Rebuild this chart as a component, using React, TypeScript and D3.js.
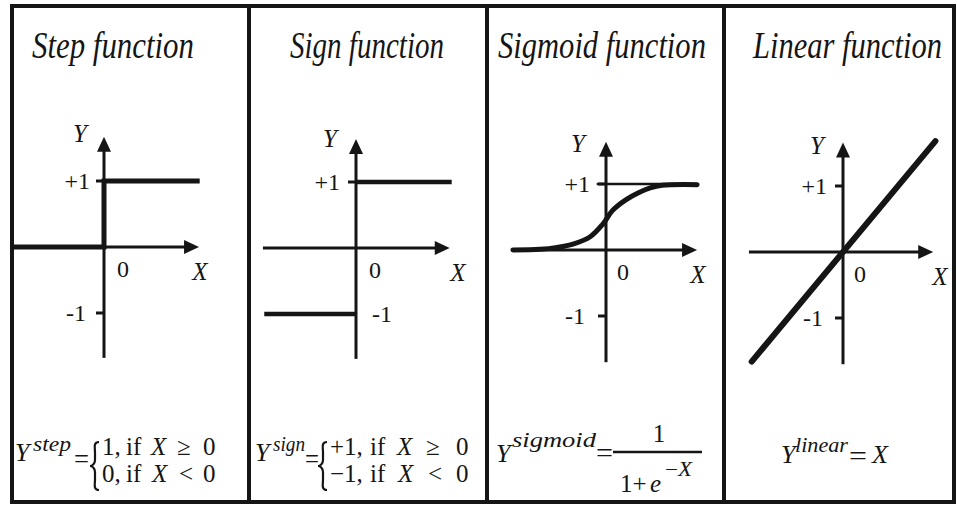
import React, { useLayoutEffect, useRef, useState } from "react";
import * as d3 from "d3";

// ---------- data ----------
const titles = ["Step function", "Sign function", "Sigmoid function", "Linear function"];
const tickValues = [1, -1];
const tickLabels = ["+1", "-1"];
const originLabel = "0";
const xAxisLabel = "X";
const yAxisLabel = "Y";

// axis extents (function units) per panel
const xAxisMin = [-1.42, -1.41, -1.41, -1.71];
const xAxisMax = [1.44, 1.42, 1.38, 1.64];
const yAxisMin = [-1.68, -1.68, -1.7, -1.7];
const yAxisMax = [1.67, 1.65, 1.64, 1.66];

const stepX = [-1.42, 0, 0, 1.45];
const stepY = [0, 0, 1, 1];
const signUpperX = [0, 1.45];
const signUpperY = [1, 1];
const signLowerX = [-1.39, 0];
const signLowerY = [-1, -1];
const sigmoidX = [-1.41, -1.0, -0.74, -0.5, -0.24, -0.05, 0.1, 0.3, 0.5, 0.67, 0.85, 1.38];
const sigmoidY = [0, 0.01, 0.04, 0.09, 0.2, 0.39, 0.6, 0.76, 0.87, 0.94, 0.98, 0.99];
const sigmoidRefX = [-0.14, 1.38];
const sigmoidRefY = [1, 1];
const linearX = [-1.66, 1.68];
const linearY = [-1.66, 1.68];

// ---------- layout ----------
const W = 957;
const H = 505;
const panels = [
  { ox: 104, oy: 247, ux: 66, uy: 66, yl: [-24, -114], tp: ["end", -14], tm: ["end", -18], z: 19, xl: 96 },
  { ox: 356, oy: 248, ux: 66, uy: 66, yl: [-26, -110], tp: ["end", -16], tm: ["start", 16], z: 19, xl: 102 },
  { ox: 606, oy: 250, ux: 66, uy: 66, yl: [-28, -107], tp: ["end", -16], tm: ["end", -21], z: 17, xl: 92 },
  { ox: 843, oy: 252, ux: 55, uy: 66, yl: [-26, -107], tp: ["end", -16], tm: ["end", -20], z: 17, xl: 97 },
];
const titlePos = [
  [32, 162],
  [290, 154],
  [498, 208],
  [753, 189],
];
const dividers = [249, 487, 724];
const INK = "#151515";
const SERIF = "Liberation Serif";

const zip = (xs: number[], ys: number[]) => xs.map((x, i) => [x, ys[i]] as [number, number]);
const T = (extra: React.CSSProperties = {}): React.CSSProperties => ({ fontFamily: SERIF, ...extra });

function FitText({ x, y, width, fontSize, style, children }: any) {
  const ref = useRef<SVGTextElement>(null);
  const [s, setS] = useState(1);
  useLayoutEffect(() => {
    if (ref.current) {
      const w = ref.current.getComputedTextLength();
      if (w > 0) setS(width / w);
    }
  }, [width]);
  return (
    <g transform={`translate(${x},${y}) scale(${s},1)`}>
      <text ref={ref} x={0} y={0} fontSize={fontSize} style={style} fill={INK}>
        {children}
      </text>
    </g>
  );
}

function Panel({ i }: { i: number }) {
  const p = panels[i];
  const x = d3.scaleLinear().domain([0, 1]).range([p.ox, p.ox + p.ux]);
  const y = d3.scaleLinear().domain([0, 1]).range([p.oy, p.oy - p.uy]);
  const line = d3.line<[number, number]>().x((d) => x(d[0])).y((d) => y(d[1]));
  const curve = d3
    .line<[number, number]>()
    .x((d) => x(d[0]))
    .y((d) => y(d[1]))
    .curve(d3.curveCatmullRom.alpha(0.5));

  const xTip = x(xAxisMax[i]);
  const yTip = y(yAxisMax[i]);
  const AL = 15;
  const AW = 7;
  const xArrow = `M${xTip},${y(0)} L${xTip - AL},${y(0) - AW} L${xTip - AL},${y(0) + AW} Z`;
  const yArrow = `M${x(0)},${yTip} L${x(0) - AW},${yTip + AL} L${x(0) + AW},${yTip + AL} Z`;

  return (
    <g>
      <path d={line([[xAxisMin[i], 0], [xAxisMax[i] - 0.15, 0]])!} stroke={INK} strokeWidth={3} fill="none" />
      <path d={line([[0, yAxisMin[i]], [0, yAxisMax[i] - 0.15]])!} stroke={INK} strokeWidth={3} fill="none" />
      <path d={xArrow} fill={INK} />
      <path d={yArrow} fill={INK} />
      {tickValues.map((t, k) => (
        <line key={k} x1={x(0) - 8} x2={x(0)} y1={y(t)} y2={y(t)} stroke={INK} strokeWidth={3} />
      ))}
      <text x={x(0) + p.yl[0]} y={y(0) + p.yl[1]} style={T({ fontStyle: "italic" })} fontSize={25} textAnchor="middle" dominantBaseline="central" fill={INK}>
        {yAxisLabel}
      </text>
      <text x={x(0) + (p.tp[1] as number)} y={y(tickValues[0])} style={T()} fontSize={24} textAnchor={p.tp[0] as any} dominantBaseline="central" fill={INK}>
        {tickLabels[0]}
      </text>
      <text x={x(0) + (p.tm[1] as number)} y={y(tickValues[1])} style={T()} fontSize={24} textAnchor={p.tm[0] as any} dominantBaseline="central" fill={INK}>
        {tickLabels[1]}
      </text>
      <text x={x(0) + p.z} y={y(0) + 22} style={T()} fontSize={24} textAnchor="middle" dominantBaseline="central" fill={INK}>
        {originLabel}
      </text>
      <text x={x(0) + p.xl} y={y(0) + 24} style={T({ fontStyle: "italic" })} fontSize={25} textAnchor="middle" dominantBaseline="central" fill={INK}>
        {xAxisLabel}
      </text>
      {i === 0 && <path d={line(zip(stepX, stepY))!} stroke={INK} strokeWidth={5} fill="none" />}
      {i === 1 && (
        <>
          <path d={line(zip(signUpperX, signUpperY))!} stroke={INK} strokeWidth={4.5} fill="none" />
          <path d={line(zip(signLowerX, signLowerY))!} stroke={INK} strokeWidth={4.5} fill="none" />
        </>
      )}
      {i === 2 && (
        <>
          <path d={line(zip(sigmoidRefX, sigmoidRefY))!} stroke={INK} strokeWidth={2.5} fill="none" />
          <path d={curve(zip(sigmoidX, sigmoidY))!} stroke={INK} strokeWidth={5} fill="none" strokeLinecap="round" />
        </>
      )}
      {i === 3 && <path d={line(zip(linearX, linearY))!} stroke={INK} strokeWidth={6} fill="none" strokeLinecap="round" />}
    </g>
  );
}

function Brace({ x, y1, y2 }: { x: number; y1: number; y2: number }) {
  const m = (y1 + y2) / 2;
  const w = 7;
  const d = `M${x + w},${y1} C${x + 1},${y1} ${x + 3},${y1 + 6} ${x + 3},${y1 + 10} L${x + 3},${m - 6} C${x + 3},${m - 2} ${x},${m} ${x - 2},${m} C${x},${m} ${x + 3},${m + 2} ${x + 3},${m + 6} L${x + 3},${y2 - 10} C${x + 3},${y2 - 6} ${x + 1},${y2} ${x + w},${y2}`;
  return <path d={d} fill="none" stroke={INK} strokeWidth={2.2} />;
}

export default function App() {
  const it = T({ fontStyle: "italic" });
  const rm = T();
  return (
    <svg width={W} height={H} style={{ position: "absolute", left: 0, top: 0, background: "#fff" }}>
      <rect x={0} y={0} width={W} height={H} fill="#fff" />
      <rect x={12} y={6} width={942} height={496} fill="none" stroke={INK} strokeWidth={4} />
      {dividers.map((d) => (
        <line key={d} x1={d} x2={d} y1={6} y2={502} stroke={INK} strokeWidth={4} />
      ))}
      {titles.map((t, i) => (
        <FitText key={t} x={titlePos[i][0]} y={58} width={titlePos[i][1]} fontSize={37} style={it}>
          {t}
        </FitText>
      ))}
      {panels.map((_, i) => (
        <Panel key={i} i={i} />
      ))}

      <g fill={INK}>
        {/* formula 1: step */}
        <text x={15} y={461} fontSize={26} style={it}>Y</text>
        <text x={33} y={451} fontSize={20} style={it} textLength={38} lengthAdjust="spacingAndGlyphs">step</text>
        <text x={74} y={468} fontSize={28} style={rm} textLength={15} lengthAdjust="spacingAndGlyphs">=</text>
        <Brace x={92} y1={442} y2={490} />
        <text y={455} fontSize={25} style={rm}>
          <tspan x={102}>1,</tspan>
          <tspan x={126}>if</tspan>
          <tspan x={151} style={it}>X</tspan>
          <tspan x={177}>≥</tspan>
          <tspan x={203}>0</tspan>
        </text>
        <text y={482} fontSize={25} style={rm}>
          <tspan x={102}>0,</tspan>
          <tspan x={126}>if</tspan>
          <tspan x={152} style={it}>X</tspan>
          <tspan x={179}>{"<"}</tspan>
          <tspan x={203}>0</tspan>
        </text>

        {/* formula 2: sign */}
        <text x={255} y={461} fontSize={26} style={it}>Y</text>
        <text x={273} y={451} fontSize={20} style={it} textLength={32} lengthAdjust="spacingAndGlyphs">sign</text>
        <text x={305} y={468} fontSize={28} style={rm} textLength={14} lengthAdjust="spacingAndGlyphs">=</text>
        <Brace x={320} y1={442} y2={490} />
        <text y={455} fontSize={25} style={rm}>
          <tspan x={330}>+1,</tspan>
          <tspan x={370}>if</tspan>
          <tspan x={397} style={it}>X</tspan>
          <tspan x={426}>≥</tspan>
          <tspan x={456}>0</tspan>
        </text>
        <text y={482} fontSize={25} style={rm}>
          <tspan x={330}>−1,</tspan>
          <tspan x={370}>if</tspan>
          <tspan x={398} style={it}>X</tspan>
          <tspan x={428}>{"<"}</tspan>
          <tspan x={456}>0</tspan>
        </text>

        {/* formula 3: sigmoid */}
        <text x={496} y={462} fontSize={26} style={it}>Y</text>
        <text x={512} y={447} fontSize={20} style={it} textLength={84} lengthAdjust="spacingAndGlyphs">sigmoid</text>
        <text x={596} y={462} fontSize={28} style={rm} textLength={17} lengthAdjust="spacingAndGlyphs">=</text>
        <text x={659} y={442} fontSize={25} style={rm} textAnchor="middle">1</text>
        <line x1={613} x2={702} y1={452} y2={452} stroke={INK} strokeWidth={2.5} />
        <text y={492} fontSize={25} style={rm}>
          <tspan x={620}>1+</tspan>
          <tspan x={650} style={it}>e</tspan>
        </text>
        <text x={665} y={476} fontSize={20} style={rm} textLength={27} lengthAdjust="spacingAndGlyphs">−<tspan style={it}>X</tspan></text>

        {/* formula 4: linear */}
        <text x={781} y={463} fontSize={26} style={it}>Y</text>
        <text x={795} y={452} fontSize={20} style={it} textLength={53} lengthAdjust="spacingAndGlyphs">linear</text>
        <text x={849} y={465} fontSize={28} style={rm} textLength={18} lengthAdjust="spacingAndGlyphs">=</text>
        <text x={872} y={463} fontSize={26} style={it}>X</text>
      </g>
    </svg>
  );
}
